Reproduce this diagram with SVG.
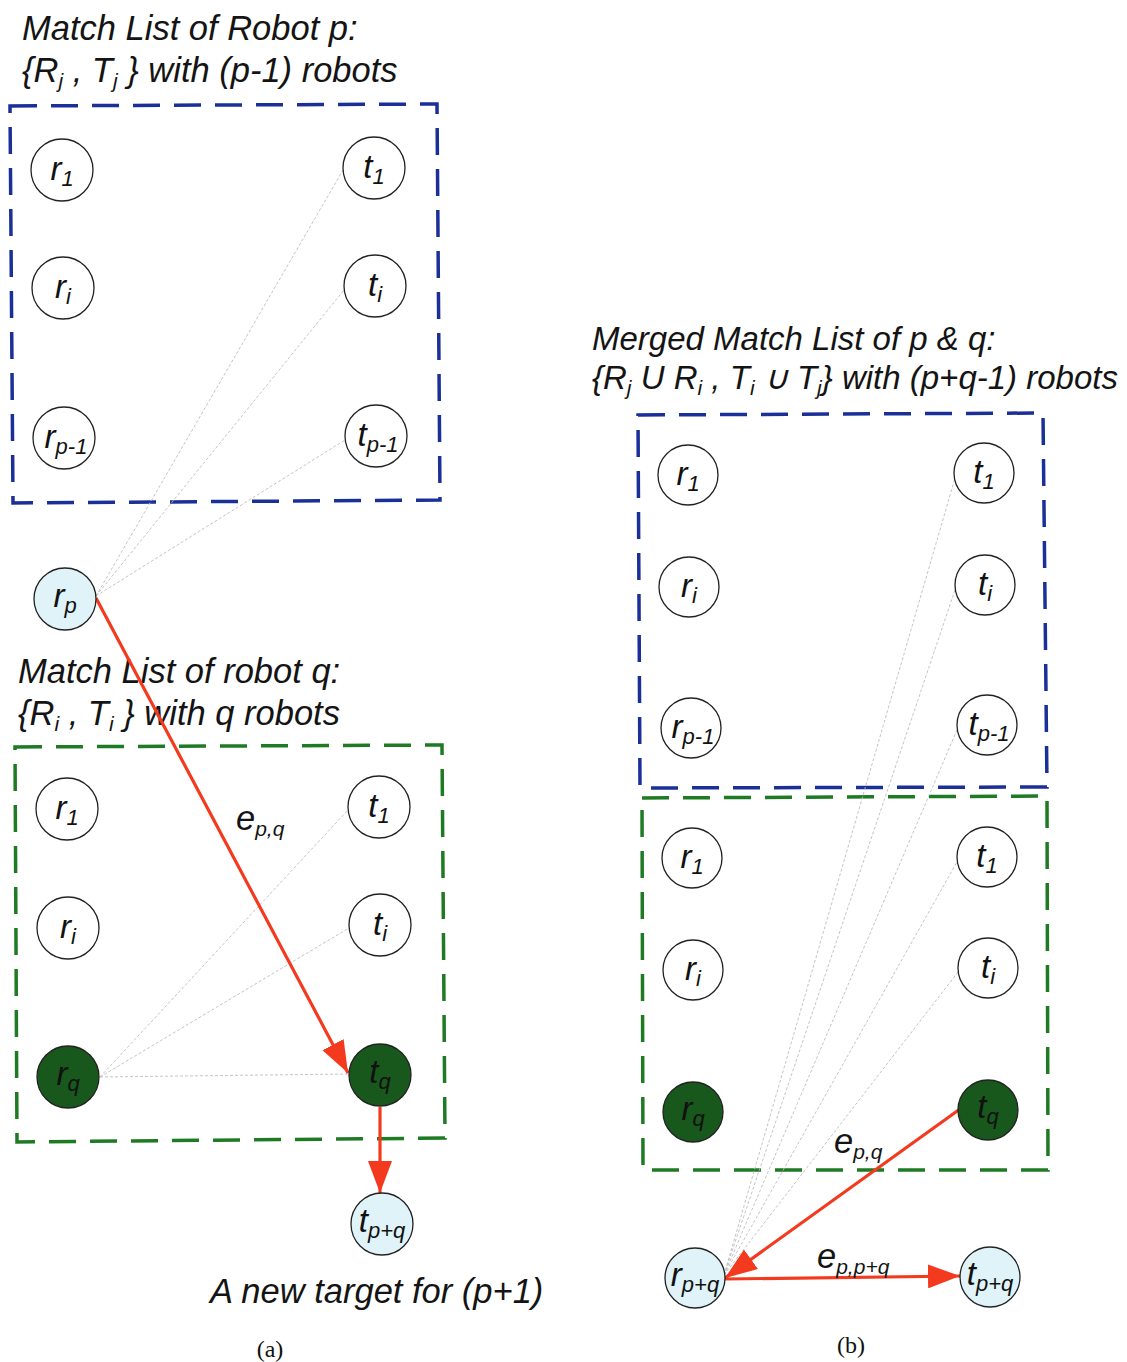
<svg xmlns="http://www.w3.org/2000/svg" width="1127" height="1362" viewBox="0 0 1127 1362">
<style>
.t{font-family:"Liberation Sans",Arial,sans-serif;font-style:italic;font-size:34.5px;fill:#141414}
.t2{font-family:"Liberation Sans",Arial,sans-serif;font-style:italic;font-size:33px;fill:#141414}
.s{font-size:21px}
.nl{font-family:"Liberation Sans",Arial,sans-serif;font-style:italic;font-size:33px;fill:#111;text-anchor:middle}
.ns{font-size:22px}
.cap{font-family:"Liberation Serif","Times New Roman",serif;font-size:24px;fill:#111;text-anchor:middle}
.n{fill:#fff;stroke:#222;stroke-width:1.3}
.lb{fill:#dff3f8;stroke:#222;stroke-width:1.3}
.dk{fill:#18581c;stroke:#222;stroke-width:1.3}
.bb{fill:none;stroke:#1b2f98;stroke-width:3.5;stroke-dasharray:27 14}
.gb{fill:none;stroke:#1f7a24;stroke-width:3.5;stroke-dasharray:27 14}
.f{stroke:#bdbdbd;stroke-width:0.9;stroke-dasharray:3 2;fill:none}
.r{stroke:#f43a1e;stroke-width:3.2;fill:none;marker-end:url(#ah)}
</style>
<defs>
<marker id="ah" viewBox="0 0 32 24" refX="32" refY="12" markerWidth="32" markerHeight="24" markerUnits="userSpaceOnUse" orient="auto">
<path d="M0,0 L32,12 L0,24 z" fill="#f43a1e"/>
</marker>
</defs>

<g id="titles">
<text class="t" x="22" y="40">Match List of Robot p:</text>
<text class="t" x="22" y="82">{R<tspan class="s" dy="6">j</tspan><tspan dy="-6"> , T</tspan><tspan class="s" dy="6">j</tspan><tspan dy="-6"> } with (p-1) robots</tspan></text>
<text class="t" x="18" y="683">Match List of robot q:</text>
<text class="t" x="18" y="725">{R<tspan class="s" dy="6">i</tspan><tspan dy="-6"> , T</tspan><tspan class="s" dy="6">i</tspan><tspan dy="-6"> } with q robots</tspan></text>
<text class="t" x="210" y="1303">A new target for (p+1)</text>
<text class="t2" x="592" y="350">Merged Match List of p &amp; q:</text>
<text class="t2" x="592" y="389">{R<tspan class="s" dy="6">j</tspan><tspan dy="-6"> U R</tspan><tspan class="s" dy="6">i</tspan><tspan dy="-6"> , T</tspan><tspan class="s" dy="6">i</tspan><tspan dy="-6"> ∪ T</tspan><tspan class="s" dy="6">j</tspan><tspan dy="-6">} with (p+q-1) robots</tspan></text>
<text class="cap" x="270" y="1357">(a)</text>
<text class="cap" x="851" y="1353">(b)</text>
</g>

<g id="boxes">
<path class="bb" d="M10,106 L437,104 L440,500 L13,503 Z"/>
<path class="gb" d="M15,747 L442,745 L445,1138 L17,1142 Z"/>
<path class="bb" d="M638,415 L1043,413 L1047,787 L640,788 Z"/>
<path class="gb" d="M642,798 L1047,796 L1048,1170 L643,1170 Z"/>
</g>

<g id="connectors">
<line class="f" x1="96" y1="596" x2="343" y2="170"/>
<line class="f" x1="96" y1="596" x2="344" y2="290"/>
<line class="f" x1="96" y1="596" x2="345" y2="440"/>
<line class="f" x1="100" y1="1077" x2="348" y2="810"/>
<line class="f" x1="100" y1="1077" x2="349" y2="928"/>
<line class="f" x1="100" y1="1077" x2="349" y2="1074"/>
<line class="f" x1="724" y1="1275" x2="955" y2="478"/>
<line class="f" x1="724" y1="1275" x2="955" y2="590"/>
<line class="f" x1="724" y1="1275" x2="957" y2="730"/>
<line class="f" x1="724" y1="1275" x2="957" y2="862"/>
<line class="f" x1="724" y1="1275" x2="958" y2="972"/>
<line class="r" x1="96" y1="598" x2="348" y2="1073"/>
<line class="r" x1="380" y1="1107" x2="380" y2="1193"/>
<line class="r" x1="960" y1="1109" x2="725" y2="1278"/>
<line class="r" x1="725" y1="1279" x2="960" y2="1276"/>
<text class="t" x="236" y="830">e<tspan class="s" dy="6">p,q</tspan></text>
<text class="t" x="834" y="1153">e<tspan class="s" dy="6">p,q</tspan></text>
<text class="t" x="817" y="1268">e<tspan class="s" dy="6">p,p+q</tspan></text>
</g>

<g id="a-r1"><circle class="n" cx="62" cy="170" r="31"/><text class="nl" x="62" y="180">r<tspan class="ns" dy="6">1</tspan></text></g>
<g id="a-ri"><circle class="n" cx="63" cy="288" r="31"/><text class="nl" x="63" y="298">r<tspan class="ns" dy="6">i</tspan></text></g>
<g id="a-rp1"><circle class="n" cx="64" cy="438" r="31"/><text class="nl" x="66" y="448">r<tspan class="ns" dy="6">p-1</tspan></text></g>
<g id="a-t1"><circle class="n" cx="374" cy="168" r="31"/><text class="nl" x="374" y="178">t<tspan class="ns" dy="6">1</tspan></text></g>
<g id="a-ti"><circle class="n" cx="375" cy="286" r="31"/><text class="nl" x="375" y="296">t<tspan class="ns" dy="6">i</tspan></text></g>
<g id="a-tp1"><circle class="n" cx="376" cy="436" r="31"/><text class="nl" x="378" y="446">t<tspan class="ns" dy="6">p-1</tspan></text></g>
<g id="a-rp"><circle class="lb" cx="65" cy="599" r="31"/><text class="nl" x="65" y="607">r<tspan class="ns" dy="6">p</tspan></text></g>
<g id="a-qr1"><circle class="n" cx="67" cy="809" r="31"/><text class="nl" x="67" y="819">r<tspan class="ns" dy="6">1</tspan></text></g>
<g id="a-qri"><circle class="n" cx="68" cy="928" r="31"/><text class="nl" x="68" y="938">r<tspan class="ns" dy="6">i</tspan></text></g>
<g id="a-rq"><circle class="dk" cx="68" cy="1077" r="31"/><text class="nl" x="68" y="1085">r<tspan class="ns" dy="6">q</tspan></text></g>
<g id="a-qt1"><circle class="n" cx="379" cy="807" r="31"/><text class="nl" x="379" y="817">t<tspan class="ns" dy="6">1</tspan></text></g>
<g id="a-qti"><circle class="n" cx="380" cy="925" r="31"/><text class="nl" x="380" y="935">t<tspan class="ns" dy="6">i</tspan></text></g>
<g id="a-tq"><circle class="dk" cx="380" cy="1075" r="31"/><text class="nl" x="380" y="1083">t<tspan class="ns" dy="6">q</tspan></text></g>
<g id="a-tpq"><circle class="lb" cx="382" cy="1224" r="31"/><text class="nl" x="382" y="1232">t<tspan class="ns" dy="6">p+q</tspan></text></g>

<g id="b-r1"><circle class="n" cx="688" cy="475" r="30"/><text class="nl" x="688" y="485">r<tspan class="ns" dy="6">1</tspan></text></g>
<g id="b-ri"><circle class="n" cx="689" cy="587" r="30"/><text class="nl" x="689" y="597">r<tspan class="ns" dy="6">i</tspan></text></g>
<g id="b-rp1"><circle class="n" cx="691" cy="728" r="30"/><text class="nl" x="693" y="738">r<tspan class="ns" dy="6">p-1</tspan></text></g>
<g id="b-t1"><circle class="n" cx="984" cy="473" r="30"/><text class="nl" x="984" y="483">t<tspan class="ns" dy="6">1</tspan></text></g>
<g id="b-ti"><circle class="n" cx="985" cy="585" r="30"/><text class="nl" x="985" y="595">t<tspan class="ns" dy="6">i</tspan></text></g>
<g id="b-tp1"><circle class="n" cx="987" cy="725" r="30"/><text class="nl" x="989" y="735">t<tspan class="ns" dy="6">p-1</tspan></text></g>
<g id="b-qr1"><circle class="n" cx="692" cy="858" r="30"/><text class="nl" x="692" y="868">r<tspan class="ns" dy="6">1</tspan></text></g>
<g id="b-qri"><circle class="n" cx="693" cy="970" r="30"/><text class="nl" x="693" y="980">r<tspan class="ns" dy="6">i</tspan></text></g>
<g id="b-rq"><circle class="dk" cx="693" cy="1112" r="30"/><text class="nl" x="693" y="1120">r<tspan class="ns" dy="6">q</tspan></text></g>
<g id="b-qt1"><circle class="n" cx="987" cy="857" r="30"/><text class="nl" x="987" y="867">t<tspan class="ns" dy="6">1</tspan></text></g>
<g id="b-qti"><circle class="n" cx="988" cy="968" r="30"/><text class="nl" x="988" y="978">t<tspan class="ns" dy="6">i</tspan></text></g>
<g id="b-tq"><circle class="dk" cx="988" cy="1110" r="30"/><text class="nl" x="988" y="1118">t<tspan class="ns" dy="6">q</tspan></text></g>
<g id="b-rpq"><circle class="lb" cx="695" cy="1278" r="30"/><text class="nl" x="695" y="1286">r<tspan class="ns" dy="6">p+q</tspan></text></g>
<g id="b-tpq"><circle class="lb" cx="990" cy="1277" r="30"/><text class="nl" x="990" y="1285">t<tspan class="ns" dy="6">p+q</tspan></text></g>
</svg>
